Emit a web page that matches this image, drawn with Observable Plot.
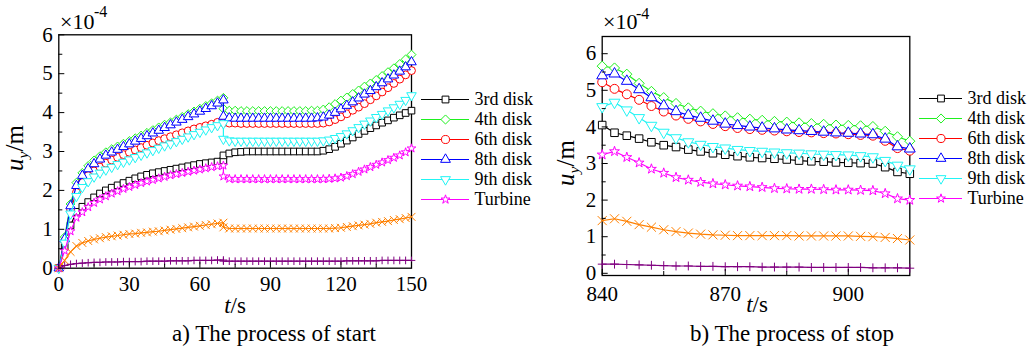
<!DOCTYPE html>
<html>
<head>
<meta charset="utf-8">
<script src="https://cdn.jsdelivr.net/npm/d3@7"></script>
<script src="https://cdn.jsdelivr.net/npm/@observablehq/plot@0.6"></script>
<style>
  body { margin: 0; background: #fff; }
  #fig { position: relative; width: 1036px; height: 349px; overflow: hidden; background: #fff;
         font-family: "Liberation Serif", "Times New Roman", serif; color: #000; }
  #fig svg, #fig svg text, #fig svg g { font-family: "Liberation Serif", "Times New Roman", serif !important; }
  .abs { position: absolute; white-space: nowrap; line-height: 1; }
  .c { transform: translate(-50%, -50%); }
  .rot { transform: translate(-50%, -50%) rotate(-90deg); }
  #fig svg { overflow: visible; }
</style>
</head>
<body>
<div id="fig"></div>
<script>
// ---------- data (values in units of 1e-4 m) ----------
const seriesNames = ["3rd disk", "4th disk", "6th disk", "8th disk", "9th disk", "Turbine", "orange (unlabelled)", "purple (unlabelled)"];
const legendLabels = ["3rd disk", "4th disk", "6th disk", "8th disk", "9th disk", "Turbine"];
const seriesColors = ["#000000", "#1ef01e", "#ff0000", "#0000ff", "#20f4f4", "#ff00ff", "#ff8000", "#800080"];

// a) start process, t in s (jump at t = 70 s)
const tStart = [0,2.5,5,7.5,10,12.5,15,17.5,20,22.5,25,27.5,30,32.5,35,37.5,40,42.5,45,47.5,50,52.5,55,57.5,60,62.5,65,67.5,70,
  70,72.5,75,77.5,80,82.5,85,87.5,90,92.5,95,97.5,100,102.5,105,107.5,110,
  112.5,115,117.5,120,122.5,125,127.5,130,132.5,135,137.5,140,142.5,145,147.5,150];
const start3rd = [0,0.55,1.1,1.45,1.58,1.7,1.82,1.92,2.0,2.07,2.13,2.19,2.25,2.31,2.36,2.4,2.44,2.47,2.5,2.53,2.56,2.59,2.62,2.65,2.68,2.7,2.72,2.74,2.77,
  2.9,2.95,2.98,2.99,3.0,3.0,3.0,3.0,3.0,3.0,3.0,3.0,3.0,3.0,3.0,3.0,3.0,
  3.02,3.06,3.12,3.2,3.28,3.36,3.45,3.53,3.6,3.67,3.74,3.8,3.87,3.93,3.99,4.05];
const start4th = [0,0.8,1.65,2.2,2.45,2.63,2.77,2.88,2.98,3.06,3.13,3.2,3.27,3.34,3.41,3.48,3.55,3.62,3.69,3.75,3.82,3.89,3.96,4.03,4.1,4.17,4.24,4.31,4.38,
  4.1,4.05,4.05,4.04,4.04,4.04,4.04,4.04,4.04,4.04,4.04,4.04,4.04,4.04,4.04,4.05,4.05,
  4.08,4.14,4.22,4.31,4.39,4.48,4.57,4.67,4.75,4.84,4.94,5.04,5.14,5.25,5.37,5.49];
const start6th = [0,0.7,1.5,1.95,2.2,2.38,2.5,2.6,2.7,2.78,2.85,2.92,2.98,3.04,3.1,3.16,3.22,3.28,3.33,3.38,3.43,3.48,3.53,3.58,3.62,3.66,3.7,3.75,3.8,
  3.74,3.73,3.73,3.72,3.72,3.72,3.72,3.72,3.72,3.72,3.72,3.72,3.72,3.72,3.72,3.72,3.72,
  3.73,3.76,3.82,3.89,3.97,4.06,4.14,4.23,4.33,4.43,4.53,4.64,4.75,4.86,4.97,5.08];
const start8th = [0,0.75,1.6,2.12,2.38,2.55,2.68,2.8,2.9,2.98,3.05,3.12,3.19,3.26,3.33,3.4,3.47,3.54,3.61,3.68,3.75,3.82,3.89,3.96,4.03,4.1,4.17,4.24,4.32,
  3.9,3.86,3.85,3.85,3.85,3.85,3.85,3.85,3.85,3.85,3.85,3.85,3.85,3.85,3.85,3.85,3.86,
  3.88,3.93,4.0,4.09,4.18,4.27,4.37,4.47,4.56,4.66,4.76,4.86,4.96,5.06,5.17,5.3];
const start9th = [0,0.65,1.4,1.85,2.08,2.23,2.35,2.45,2.53,2.6,2.67,2.73,2.79,2.85,2.91,2.97,3.03,3.09,3.15,3.2,3.26,3.32,3.38,3.44,3.5,3.56,3.62,3.67,3.72,
  3.32,3.28,3.27,3.27,3.27,3.27,3.27,3.27,3.27,3.27,3.27,3.27,3.27,3.27,3.27,3.27,3.27,
  3.28,3.3,3.34,3.39,3.46,3.54,3.62,3.71,3.79,3.88,3.96,4.05,4.13,4.22,4.32,4.44];
const startTurbine = [0,0.45,0.95,1.3,1.44,1.57,1.68,1.77,1.85,1.92,1.98,2.04,2.09,2.14,2.19,2.23,2.27,2.31,2.35,2.39,2.42,2.45,2.48,2.51,2.54,2.57,2.6,2.62,2.64,
  2.36,2.3,2.29,2.29,2.29,2.29,2.29,2.29,2.29,2.29,2.29,2.29,2.29,2.29,2.29,2.29,2.29,
  2.29,2.3,2.31,2.33,2.37,2.42,2.48,2.54,2.6,2.66,2.72,2.78,2.84,2.9,2.98,3.08];
const startOrange = [0,0.2,0.42,0.57,0.65,0.7,0.74,0.77,0.8,0.82,0.84,0.86,0.88,0.89,0.91,0.92,0.94,0.95,0.97,0.99,1.01,1.03,1.05,1.07,1.09,1.11,1.13,1.15,1.17,
  1.05,1.02,1.02,1.02,1.02,1.02,1.02,1.02,1.02,1.02,1.02,1.02,1.02,1.02,1.02,1.02,1.02,
  1.02,1.02,1.03,1.04,1.06,1.08,1.1,1.12,1.14,1.17,1.19,1.21,1.24,1.26,1.29,1.32];
const startPurple = [0,0.07,0.1,0.12,0.13,0.14,0.15,0.15,0.16,0.16,0.16,0.17,0.17,0.17,0.17,0.18,0.18,0.18,0.18,0.19,0.19,0.19,0.19,0.2,0.2,0.2,0.2,0.21,0.21,
  0.18,0.18,0.18,0.18,0.18,0.18,0.18,0.18,0.18,0.18,0.18,0.18,0.18,0.18,0.18,0.18,0.18,
  0.18,0.18,0.18,0.18,0.19,0.19,0.19,0.19,0.19,0.19,0.2,0.2,0.2,0.2,0.2,0.2];

// b) stop process
const tStop = [840,843,846,849,852,855,858,861,864,867,870,873,876,879,882,885,888,891,894,897,900,903,906,909,912,915];
const stop3rd = [4.05,3.84,3.76,3.68,3.58,3.5,3.45,3.38,3.33,3.28,3.24,3.2,3.17,3.15,3.13,3.11,3.08,3.06,3.05,3.03,3.02,3.01,3.0,2.9,2.77,2.72];
const stop4th = [5.66,5.61,5.44,5.19,4.97,4.8,4.64,4.52,4.43,4.36,4.3,4.25,4.21,4.18,4.15,4.13,4.11,4.09,4.07,4.05,4.04,4.03,4.01,3.88,3.73,3.61];
const stop6th = [5.22,5.04,4.89,4.74,4.57,4.42,4.31,4.22,4.15,4.08,4.02,3.97,3.94,3.92,3.9,3.88,3.86,3.85,3.83,3.82,3.8,3.78,3.76,3.62,3.42,3.35];
const stop8th = [5.4,5.45,5.25,5.02,4.8,4.58,4.42,4.32,4.24,4.16,4.08,4.04,4.0,3.97,3.95,3.92,3.9,3.88,3.86,3.84,3.83,3.81,3.79,3.67,3.46,3.4];
const stop9th = [4.55,4.67,4.46,4.25,4.04,3.85,3.7,3.59,3.52,3.46,3.42,3.38,3.35,3.33,3.31,3.29,3.28,3.26,3.25,3.24,3.23,3.21,3.18,3.08,2.95,2.85];
const stopTurbine = [3.24,3.33,3.17,3.02,2.85,2.74,2.62,2.55,2.49,2.45,2.42,2.39,2.37,2.35,2.32,2.31,2.3,2.3,2.29,2.28,2.28,2.27,2.26,2.18,2.04,2.0];
const stopOrange = [1.44,1.49,1.42,1.33,1.26,1.19,1.14,1.1,1.07,1.05,1.04,1.03,1.03,1.03,1.03,1.03,1.02,1.02,1.02,1.02,1.02,1.01,1.0,0.98,0.95,0.91];
const stopPurple = [0.25,0.25,0.24,0.23,0.22,0.21,0.2,0.2,0.19,0.19,0.18,0.18,0.18,0.17,0.17,0.17,0.17,0.16,0.16,0.16,0.16,0.16,0.15,0.15,0.15,0.14];

// tick values
const startXMajor = [0, 30, 60, 90, 120, 150];
const startXMinor = [15, 45, 75, 105, 135];
const stopXMajor = [840, 870, 900];
const stopXMinor = [855, 885];
const yMajor = [0, 1, 2, 3, 4, 5, 6];
const yMinor = [0.5, 1.5, 2.5, 3.5, 4.5, 5.5];

// ---------- symbols ----------
const scaled = (sym, k) => ({ draw(ctx, size) { sym.draw(ctx, size * k); } });
const triDown = { draw(ctx, size) {
  const s = Math.sqrt(size) * 0.6824, t = s / 2, u = s * Math.sqrt(3) / 2;
  ctx.moveTo(0, s); ctx.lineTo(u, -t); ctx.lineTo(-u, -t); ctx.closePath();
} };
const seriesSymbols = [
  scaled(d3.symbolSquare2, 1.45),
  scaled(d3.symbolDiamond2, 1.3),
  scaled(d3.symbolCircle, 1.25),
  scaled(d3.symbolTriangle2, 1.7),
  scaled(triDown, 1.7),
  scaled(d3.symbolStar, 0.6),
  scaled(d3.symbolTimes, 1.1),
  scaled(d3.symbolPlus, 0.55)
];

const SERIF = "Liberation Serif";
const SVGSTYLE = "font-family: 'Liberation Serif', 'Times New Roman', serif; font-size: 21px; background: transparent; overflow: visible; color: #000;";

function panel(t, series, o) {
  const marks = [Plot.frame({ stroke: "#000", strokeWidth: 1.3 })];
  series.forEach((vals, i) => {
    const rows = t.map((x, j) => ({ t: x, v: vals[j] }));
    marks.push(Plot.line(rows, { x: "t", y: "v", stroke: seriesColors[i], strokeWidth: 1.2 }));
    marks.push(Plot.dot(rows, { x: "t", y: "v", symbol: seriesSymbols[i], r: o.r, stroke: seriesColors[i], fill: "white", strokeWidth: 1 }));
  });
  const blank = () => "";
  marks.push(
    // inward ticks
    Plot.axisX(o.xMajor, { tickSize: -6, tickFormat: blank, label: null }),
    Plot.axisX(o.xMinor, { tickSize: -4, tickFormat: blank, label: null }),
    Plot.axisY(yMajor, { tickSize: -6, tickFormat: blank, label: null }),
    Plot.axisY(yMinor, { tickSize: -4, tickFormat: blank, label: null }),
    // tick labels
    Plot.text(o.xMajor, { x: d => d, frameAnchor: "bottom", lineAnchor: "top", dy: o.xPad, text: d => String(d),
      fontFamily: SERIF, fontSize: 21, fill: "#000" }),
    Plot.text(yMajor, { y: d => d, frameAnchor: "left", textAnchor: "end", dx: -6, text: d => String(d),
      fontFamily: SERIF, fontSize: 21, fill: "#000" })
  );
  return Plot.plot({
    width: o.width, height: 349,
    marginLeft: o.ml, marginRight: o.mr, marginTop: o.mt, marginBottom: o.mb,
    x: { domain: o.xDomain, label: null },
    y: { domain: o.yDomain, label: null },
    style: SVGSTYLE,
    marks
  });
}

function legend(o) {
  const marks = [];
  legendLabels.forEach((name, i) => {
    marks.push(
      Plot.ruleY([name], { y: d => d, x1: () => 0, x2: () => 1, stroke: seriesColors[i], strokeWidth: 1.2 }),
      Plot.dot([name], { x: () => 0.5, y: d => d, symbol: seriesSymbols[i], r: o.r, stroke: seriesColors[i], fill: "white", strokeWidth: 1 }),
      Plot.text([name], { x: () => 1, y: d => d, text: d => d, textAnchor: "start", dx: 5, fontSize: 18, fontFamily: SERIF, fill: "#000" })
    );
  });
  return Plot.plot({
    width: o.width, height: 349, margin: 0,
    x: { domain: [0, 1], range: o.xRange, axis: null },
    y: { type: "point", domain: legendLabels, range: o.yRange, axis: null },
    style: SVGSTYLE,
    marks
  });
}

const fig = document.getElementById("fig");
function place(node, left, top) {
  const d = document.createElement("div");
  d.className = "abs"; d.style.left = left + "px"; d.style.top = top + "px";
  d.appendChild(node); fig.appendChild(d); return d;
}
function html(str, x, y, cls, size) {
  const d = document.createElement("div");
  d.className = "abs " + cls; d.style.left = x + "px"; d.style.top = y + "px";
  d.style.fontSize = size + "px"; d.innerHTML = str; fig.appendChild(d); return d;
}

const startChart = panel(tStart,
  [start3rd, start4th, start6th, start8th, start9th, startTurbine, startOrange, startPurple],
  { width: 420, ml: 58.3, mr: 9, mt: 34.3, mb: 81.3, xDomain: [0, 150], yDomain: [0, 6],
    xMajor: startXMajor, xMinor: startXMinor, r: 3.5, xPad: 8 });
const stopChart = panel(tStop,
  [stop3rd, stop4th, stop6th, stop8th, stop9th, stopTurbine, stopOrange, stopPurple],
  { width: 380, ml: 61.7, mr: 10.7, mt: 36, mb: 74, xDomain: [840, 915], yDomain: [-0.06, 6.47],
    xMajor: stopXMajor, xMinor: stopXMinor, r: 4, xPad: 11 });

place(startChart, 0, 0);
place(stopChart, 540, 0);
place(legend({ width: 125, xRange: [6, 54], yRange: [87, 211], r: 3.6 }), 415, 0);
place(legend({ width: 123, xRange: [6, 49], yRange: [86, 210], r: 3.6 }), 913, 0);

// axis labels, exponent and captions
const yLab = '<i>u</i><sub style="font-size:0.62em;vertical-align:-0.3em"><i>y</i></sub>/m';
html(yLab, 16, 148, "rot", 25);
html(yLab, 567, 163, "rot", 25);
html('<i>t</i>/s', 235, 305, "c", 23);
html('<i>t</i>/s', 757, 304, "c", 23);
html('×10', 60, 11, "", 22);
html('-4', 94, 4, "", 16);
html('×10', 603, 11, "", 22);
html('-4', 636, 6, "", 16);
html('a) The process of start', 274, 333, "c", 23);
html('b) The process of stop', 792, 333, "c", 23);
</script>
</body>
</html>
